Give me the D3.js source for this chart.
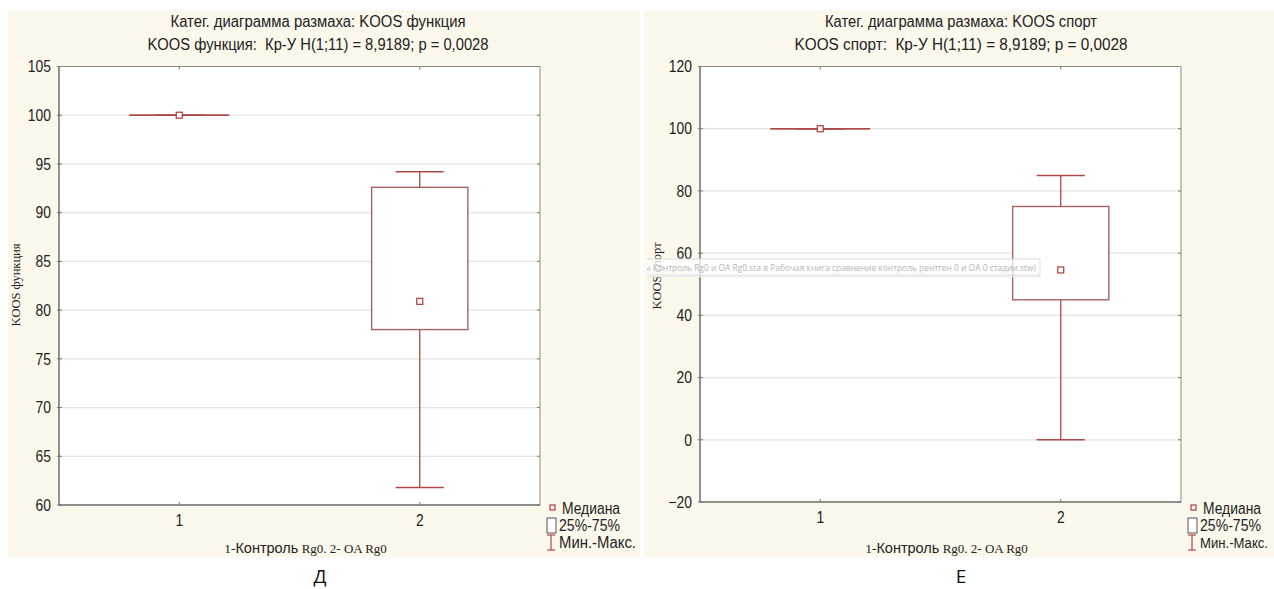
<!DOCTYPE html>
<html>
<head>
<meta charset="utf-8">
<script src="https://cdn.jsdelivr.net/npm/d3@7"></script>
<style>
  html, body { margin: 0; padding: 0; background: #ffffff; }
  svg { display: block; }
</style>
</head>
<body>
<svg id="chart" width="1274" height="589"></svg>
<script>
// Group labels on the x axis
const categories = ["1", "2"];

// KOOS функция: min, quartiles, median, max per group
const funcMin    = [100, 61.8];
const funcQ1     = [100, 78.0];
const funcMedian = [100, 80.9];
const funcQ3     = [100, 92.6];
const funcMax    = [100, 94.2];
const funcTicks  = [60, 65, 70, 75, 80, 85, 90, 95, 100, 105];

// KOOS спорт: min, quartiles, median, max per group
const sportMin    = [100, 0];
const sportQ1     = [100, 45];
const sportMedian = [100, 54.6];
const sportQ3     = [100, 75];
const sportMax    = [100, 85];
const sportTicks  = [-20, 0, 20, 40, 60, 80, 100, 120];

const SANS   = '"Liberation Sans", Arial, sans-serif';
const SERIF  = '"Liberation Serif", "Times New Roman", serif';
const BOXCOL = "#a86262";
const WHISK  = "#b04848";

const svg = d3.select("#chart");

// squeeze a text horizontally so the sans face reads like a narrow face
function condense(sel, k) {
  sel.each(function () {
    const w = this.getComputedTextLength();
    d3.select(this).attr("textLength", w * k).attr("lengthAdjust", "spacingAndGlyphs");
  });
  return sel;
}

function drawPanel(o) {
  const g = svg.append("g");

  // cream panel background
  g.append("rect")
    .attr("x", o.bgx).attr("y", 10)
    .attr("width", o.bgw).attr("height", 547)
    .attr("fill", "#fdf8ec");

  const left = o.plotLeft, right = left + 481, top = 66.5, bottom = o.bottom;

  const x = d3.scaleBand().domain(categories).range([left, right]).padding(0);
  const y = d3.scaleLinear().domain([o.ticks[0], o.ticks[o.ticks.length - 1]]).range([bottom, top]);
  const cx = c => x(c) + x.bandwidth() / 2;
  const boxW = (right - left) * 0.2;
  const capW = (right - left) * 0.1;

  // plot area
  g.append("rect")
    .attr("x", left).attr("y", top)
    .attr("width", right - left).attr("height", bottom - top)
    .attr("fill", "#ffffff");

  // horizontal grid
  g.append("g").selectAll("line").data(o.ticks.slice(1, -1)).join("line")
    .attr("x1", left).attr("x2", right)
    .attr("y1", d => y(d)).attr("y2", d => y(d))
    .attr("stroke", "#e4e4e4").attr("stroke-width", 1.2);

  // titles
  g.append("text")
    .attr("x", o.titleX).attr("y", 27)
    .attr("text-anchor", "middle")
    .attr("font-family", SANS).attr("font-size", 16).attr("fill", "#222")
    .attr("textLength", o.title1W).attr("lengthAdjust", "spacingAndGlyphs")
    .text(o.title1);
  g.append("text")
    .attr("x", o.titleX).attr("y", 50)
    .attr("text-anchor", "middle")
    .attr("font-family", SANS).attr("font-size", 16).attr("fill", "#222")
    .attr("xml:space", "preserve")
    .attr("textLength", o.title2W).attr("lengthAdjust", "spacingAndGlyphs")
    .text(o.title2);

  // y axis
  const yAxis = d3.axisLeft(y).tickValues(o.ticks).tickSize(0).tickPadding(8).tickFormat(d3.format("d"));
  const ya = g.append("g").attr("transform", `translate(${left},0)`).call(yAxis);
  ya.select(".domain").remove();
  condense(ya.selectAll("text").attr("font-family", SANS).attr("font-size", 16.5).attr("fill", "#222"), 0.84);

  // x axis
  const xAxis = d3.axisBottom(x).tickSize(0).tickPadding(9);
  const xa = g.append("g").attr("transform", `translate(0,${bottom})`).call(xAxis);
  xa.select(".domain").remove();
  condense(xa.selectAll("text").attr("font-family", SANS).attr("font-size", 16.5).attr("fill", "#222"), 0.84);

  // inward tick marks on all four sides
  const tk = g.append("g").attr("stroke", "#777").attr("stroke-width", 1);
  tk.selectAll(".yl").data(o.ticks).join("line")
    .attr("x1", left - 2).attr("x2", left + 3).attr("y1", d => y(d)).attr("y2", d => y(d));
  tk.selectAll(".yr").data(o.ticks).join("line")
    .attr("x1", right - 3).attr("x2", right).attr("y1", d => y(d)).attr("y2", d => y(d));
  tk.selectAll(".xb").data(categories).join("line")
    .attr("x1", cx).attr("x2", cx).attr("y1", bottom - 3).attr("y2", bottom);
  tk.selectAll(".xt").data(categories).join("line")
    .attr("x1", cx).attr("x2", cx).attr("y1", top).attr("y2", top + 3);

  // frame
  g.append("line").attr("x1", left).attr("x2", right).attr("y1", top).attr("y2", top)
    .attr("stroke", "#8a8a8a").attr("stroke-width", 1);
  g.append("line").attr("x1", right).attr("x2", right).attr("y1", top).attr("y2", bottom)
    .attr("stroke", "#8a8a8a").attr("stroke-width", 1);
  g.append("line").attr("x1", left).attr("x2", left).attr("y1", top).attr("y2", bottom)
    .attr("stroke", "#6e6e6e").attr("stroke-width", 1.5);
  g.append("line").attr("x1", left).attr("x2", right).attr("y1", bottom).attr("y2", bottom)
    .attr("stroke", "#6e6e6e").attr("stroke-width", 1.5);

  // axis title (rotated)
  g.append("text")
    .attr("transform", `translate(${o.yTitleX},${o.yTitleY}) rotate(-90)`)
    .attr("text-anchor", "middle")
    .attr("font-family", SERIF).attr("font-size", 12.5).attr("fill", "#222")
    .text(o.yTitle);

  // x axis title: mixed fonts
  const xt = g.append("text")
    .attr("x", (left + right) / 2 + 6).attr("y", 553)
    .attr("text-anchor", "middle").attr("fill", "#222");
  xt.append("tspan").attr("font-family", SERIF).attr("font-size", 13.5).text("1-");
  xt.append("tspan").attr("font-family", SANS).attr("font-size", 14.5).text("Контроль");
  xt.append("tspan").attr("font-family", SERIF).attr("font-size", 13).text(" Rg0. 2- OA Rg0");

  // boxes
  const idx = d3.range(categories.length);
  const marks = g.append("g");
  // whiskers
  marks.selectAll(".wh").data(idx).join("line")
    .attr("x1", i => cx(categories[i])).attr("x2", i => cx(categories[i]))
    .attr("y1", i => y(o.max[i])).attr("y2", i => y(o.min[i]))
    .attr("stroke", WHISK).attr("stroke-width", 1.3);
  marks.selectAll(".capT").data(idx).join("line")
    .attr("x1", i => cx(categories[i]) - capW / 2).attr("x2", i => cx(categories[i]) + capW / 2)
    .attr("y1", i => y(o.max[i])).attr("y2", i => y(o.max[i]))
    .attr("stroke", WHISK).attr("stroke-width", 1.5);
  marks.selectAll(".capB").data(idx).join("line")
    .attr("x1", i => cx(categories[i]) - capW / 2).attr("x2", i => cx(categories[i]) + capW / 2)
    .attr("y1", i => y(o.min[i])).attr("y2", i => y(o.min[i]))
    .attr("stroke", WHISK).attr("stroke-width", 1.5);
  // quartile box
  marks.selectAll(".box").data(idx).join("rect")
    .attr("x", i => cx(categories[i]) - boxW / 2)
    .attr("y", i => y(o.q3[i]))
    .attr("width", boxW)
    .attr("height", i => Math.max(0.01, y(o.q1[i]) - y(o.q3[i])))
    .attr("fill", "#ffffff")
    .attr("stroke", BOXCOL).attr("stroke-width", 1.4);
  // zero-height boxes rendered as a line
  marks.selectAll(".flat").data(idx.filter(i => o.q1[i] === o.q3[i])).join("line")
    .attr("x1", i => cx(categories[i]) - boxW / 2 - 2).attr("x2", i => cx(categories[i]) + boxW / 2 + 2)
    .attr("y1", i => y(o.q3[i])).attr("y2", i => y(o.q3[i]))
    .attr("stroke", WHISK).attr("stroke-width", 1.4);
  // medians
  marks.selectAll(".med").data(idx).join("rect")
    .attr("x", i => cx(categories[i]) - 3).attr("y", i => y(o.median[i]) - 3)
    .attr("width", 6).attr("height", 6)
    .attr("fill", "#ffffff").attr("stroke", "#b03a3a").attr("stroke-width", 1.2);

  if (o.tooltip) o.tooltip(g);

  // legend
  const lx = right + 8;
  const lg = g.append("g").attr("font-family", SANS).attr("font-size", 16).attr("fill", "#222");
  lg.append("rect").attr("x", lx + 2).attr("y", 505).attr("width", 5).attr("height", 5)
    .attr("fill", "#fff").attr("stroke", "#b03a3a").attr("stroke-width", 1.2);
  lg.append("text").attr("x", lx + 14).attr("y", 514)
    .attr("textLength", 58).attr("lengthAdjust", "spacingAndGlyphs").text("Медиана");
  lg.append("rect").attr("x", lx - 1).attr("y", 518).attr("width", 9).attr("height", 15)
    .attr("fill", "#fff").attr("stroke", "#555").attr("stroke-width", 1);
  lg.append("text").attr("x", lx + 11).attr("y", 531)
    .attr("textLength", 61).attr("lengthAdjust", "spacingAndGlyphs").text("25%-75%");
  const ix = lx + 3;
  lg.append("line").attr("x1", ix).attr("x2", ix).attr("y1", 535).attr("y2", 550).attr("stroke", WHISK).attr("stroke-width", 1.2);
  lg.append("line").attr("x1", ix - 4).attr("x2", ix + 4).attr("y1", 535).attr("y2", 535).attr("stroke", WHISK).attr("stroke-width", 1.2);
  lg.append("line").attr("x1", ix - 4).attr("x2", ix + 4).attr("y1", 550).attr("y2", 550).attr("stroke", WHISK).attr("stroke-width", 1.2);
  lg.append("text").attr("x", lx + 11).attr("y", 548)
    .attr("font-size", o.legendMinMaxSize)
    .attr("textLength", o.legendMinMaxW).attr("lengthAdjust", "spacingAndGlyphs").text("Мин.-Макс.");

  // panel letter
  svg.append("text")
    .attr("x", o.letterX).attr("y", 583)
    .attr("text-anchor", "middle")
    .attr("font-family", '"Open Sans", "Noto Sans", sans-serif').attr("font-size", 19).attr("fill", "#111")
    .text(o.letter);
}

drawPanel({
  bgx: 8, bgw: 632, plotLeft: 59, bottom: 505,
  ticks: funcTicks,
  min: funcMin, q1: funcQ1, median: funcMedian, q3: funcQ3, max: funcMax,
  title1: "Катег. диаграмма размаха: KOOS функция",
  title2: "KOOS функция:  Кр-У H(1;11) = 8,9189; p = 0,0028",
  titleX: 318, title1W: 295, title2W: 341,
  yTitle: "KOOS функция", yTitleX: 20, yTitleY: 285,
  legendMinMaxW: 77, legendMinMaxSize: 16,
  letter: "Д", letterX: 320
});

drawPanel({
  bgx: 644, bgw: 630, plotLeft: 700, bottom: 502,
  ticks: sportTicks,
  min: sportMin, q1: sportQ1, median: sportMedian, q3: sportQ3, max: sportMax,
  title1: "Катег. диаграмма размаха: KOOS спорт",
  title2: "KOOS спорт:  Кр-У H(1;11) = 8,9189; p = 0,0028",
  titleX: 961, title1W: 272, title2W: 333,
  yTitle: "KOOS спорт", yTitleX: 661, yTitleY: 276,
  legendMinMaxW: 68, legendMinMaxSize: 14,
  letter: "Е", letterX: 961,
  tooltip: g => {
    // hover hint left over the plot
    const tg = g.append("g");
    tg.append("clipPath").attr("id", "tipclip")
      .append("rect").attr("x", 647).attr("y", 250).attr("width", 400).attr("height", 30);
    tg.append("rect").attr("x", 641).attr("y", 259).attr("width", 399).attr("height", 16)
      .attr("fill", "#ffffff").attr("fill-opacity", 0.75)
      .attr("stroke", "#dcdcdc").attr("stroke-width", 1)
      .attr("clip-path", "url(#tipclip)");
    tg.append("line").attr("x1", 648).attr("x2", 1041).attr("y1", 276.5).attr("y2", 276.5)
      .attr("stroke", "#ececec").attr("stroke-width", 1.5);
    tg.append("text").attr("x", 644).attr("y", 270.5)
      .attr("font-family", '"Open Sans", "Noto Sans", sans-serif').attr("font-size", 8.6)
      .attr("fill", "#b4b4b4")
      .attr("textLength", 392).attr("lengthAdjust", "spacingAndGlyphs")
      .attr("clip-path", "url(#tipclip)")
      .text("ы Контроль Rg0 и ОА Rg0.sta в Рабочая книга сравнение контроль рентген 0 и ОА 0 стадии.stw)");
  }
});
</script>
</body>
</html>
